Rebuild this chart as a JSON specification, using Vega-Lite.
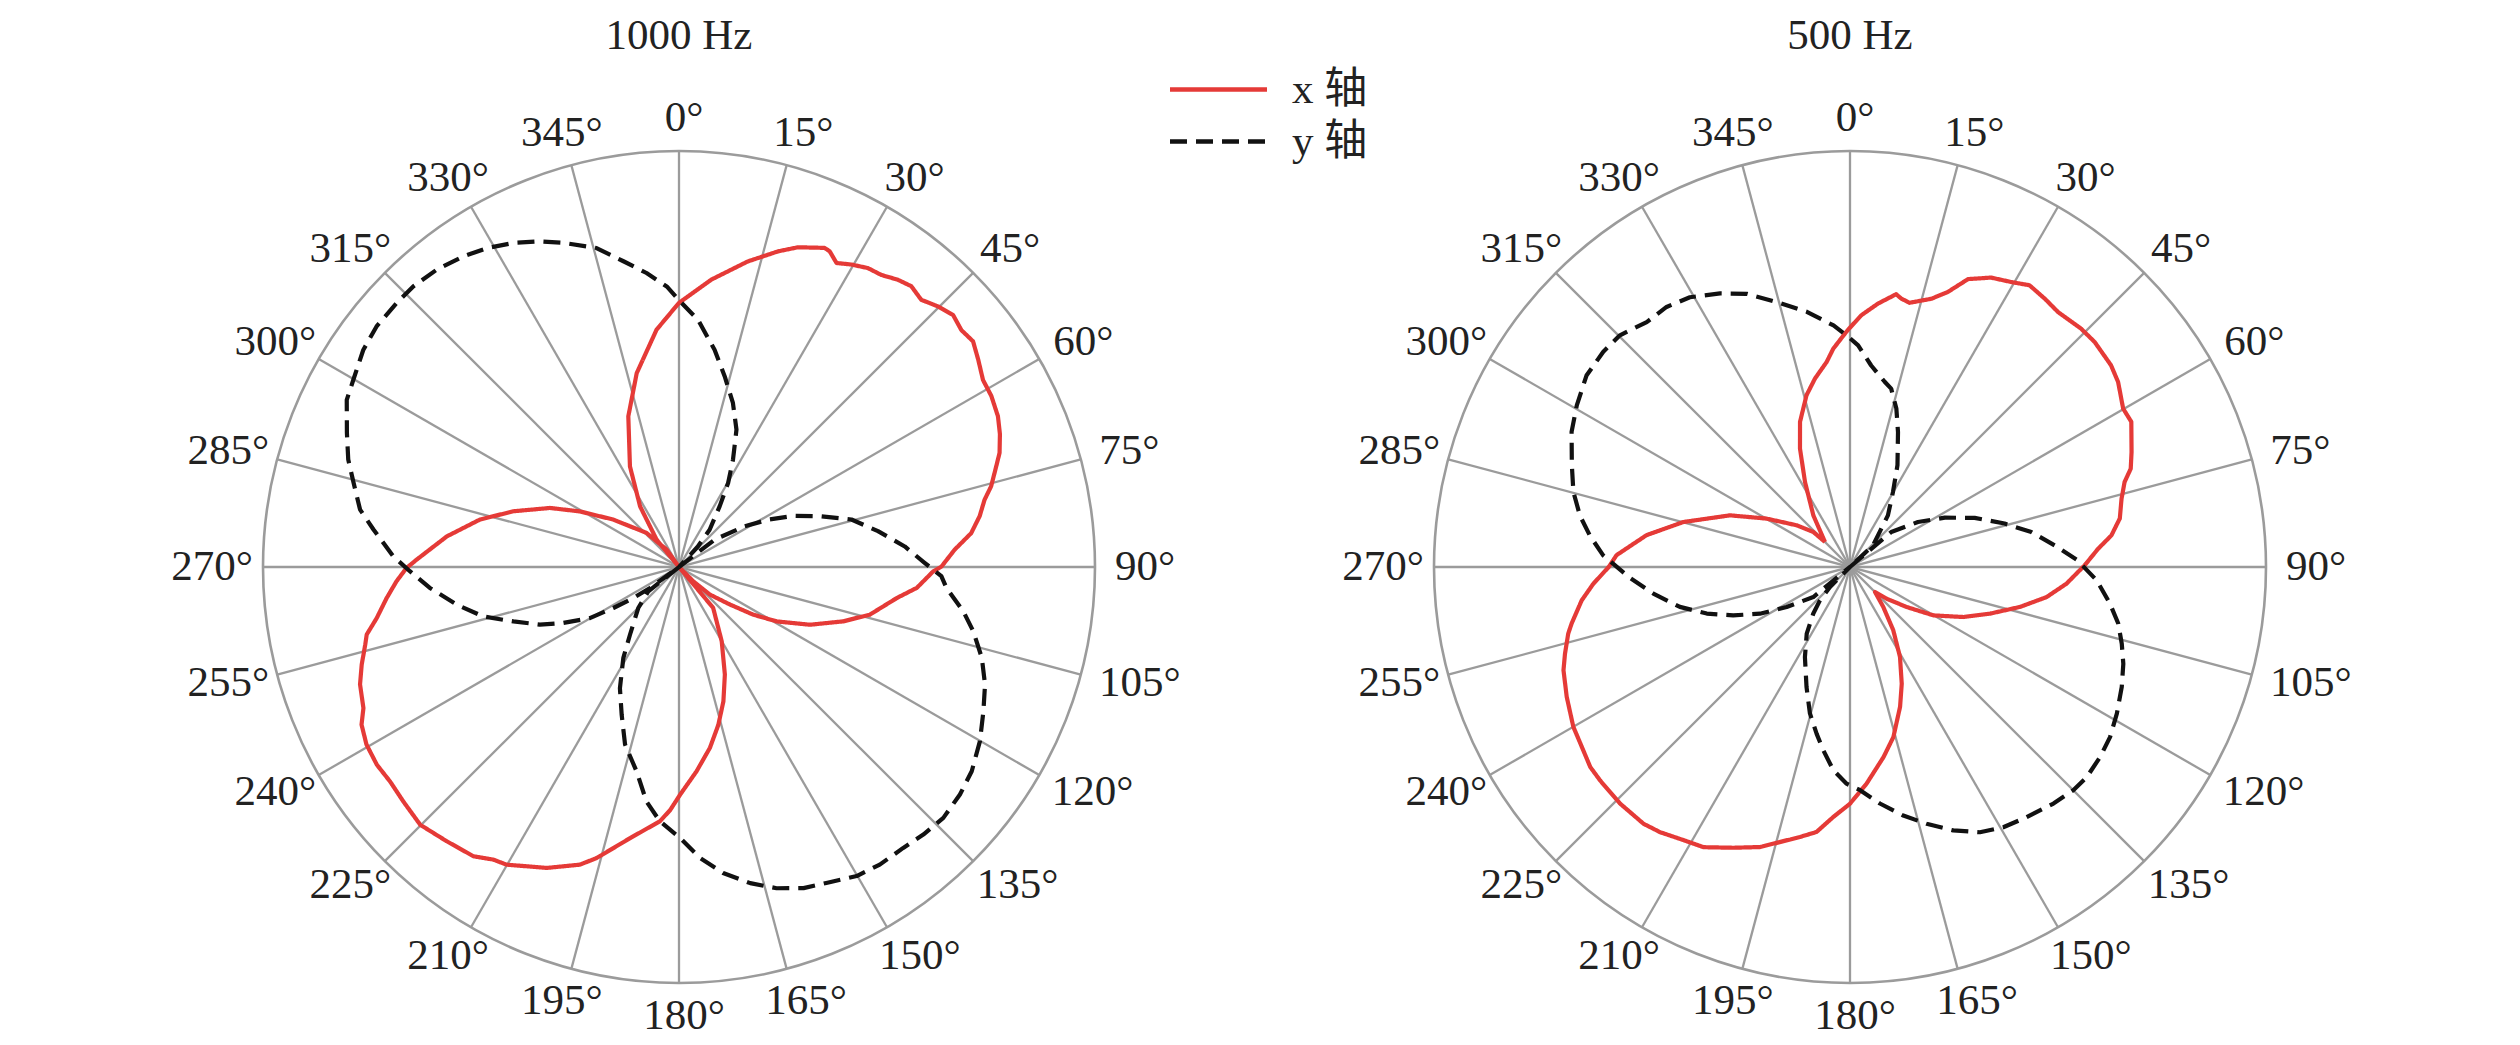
{
  "$schema": "https://vega.github.io/schema/vega-lite/v6.json",
  "background": "white",
  "padding": {"left": 159, "top": 15, "right": 10, "bottom": 0},
  "config": {
    "view": {"stroke": null},
    "title": {"font": "Liberation Serif", "fontSize": 43, "fontWeight": "normal", "color": "#222222", "baseline": "alphabetic", "offset": 31}
  },
  "datasets": {
    "spokes": [
      {"angle": 0, "label": "0°"}, {"angle": 15, "label": "15°"}, {"angle": 30, "label": "30°"}, {"angle": 45, "label": "45°"},
      {"angle": 60, "label": "60°"}, {"angle": 75, "label": "75°"}, {"angle": 90, "label": "90°"}, {"angle": 105, "label": "105°"},
      {"angle": 120, "label": "120°"}, {"angle": 135, "label": "135°"}, {"angle": 150, "label": "150°"}, {"angle": 165, "label": "165°"},
      {"angle": 180, "label": "180°"}, {"angle": 195, "label": "195°"}, {"angle": 210, "label": "210°"}, {"angle": 225, "label": "225°"},
      {"angle": 240, "label": "240°"}, {"angle": 255, "label": "255°"}, {"angle": 270, "label": "270°"}, {"angle": 285, "label": "285°"},
      {"angle": 300, "label": "300°"}, {"angle": 315, "label": "315°"}, {"angle": 330, "label": "330°"}, {"angle": 345, "label": "345°"}
    ],
    "curves": [
      {"panel":"1000 Hz","axis":"x 轴","angle":320,"r":0},
      {"panel":"1000 Hz","axis":"x 轴","angle":320.7,"r":0.085},
      {"panel":"1000 Hz","axis":"x 轴","angle":327.3,"r":0.173},
      {"panel":"1000 Hz","axis":"x 轴","angle":334,"r":0.269},
      {"panel":"1000 Hz","axis":"x 轴","angle":341.4,"r":0.382},
      {"panel":"1000 Hz","axis":"x 轴","angle":347.7,"r":0.477},
      {"panel":"1000 Hz","axis":"x 轴","angle":354.6,"r":0.573},
      {"panel":"1000 Hz","axis":"x 轴","angle":0,"r":0.635},
      {"panel":"1000 Hz","axis":"x 轴","angle":6.4,"r":0.695},
      {"panel":"1000 Hz","axis":"x 轴","angle":12.7,"r":0.753},
      {"panel":"1000 Hz","axis":"x 轴","angle":17.4,"r":0.795},
      {"panel":"1000 Hz","axis":"x 轴","angle":20.4,"r":0.82},
      {"panel":"1000 Hz","axis":"x 轴","angle":24.5,"r":0.843},
      {"panel":"1000 Hz","axis":"x 轴","angle":25.5,"r":0.841},
      {"panel":"1000 Hz","axis":"x 轴","angle":27.4,"r":0.823},
      {"panel":"1000 Hz","axis":"x 轴","angle":29.7,"r":0.837},
      {"panel":"1000 Hz","axis":"x 轴","angle":32.3,"r":0.85},
      {"panel":"1000 Hz","axis":"x 轴","angle":34.7,"r":0.854},
      {"panel":"1000 Hz","axis":"x 轴","angle":37.3,"r":0.868},
      {"panel":"1000 Hz","axis":"x 轴","angle":39.6,"r":0.876},
      {"panel":"1000 Hz","axis":"x 轴","angle":42.2,"r":0.867},
      {"panel":"1000 Hz","axis":"x 轴","angle":44.8,"r":0.883},
      {"panel":"1000 Hz","axis":"x 轴","angle":47.4,"r":0.895},
      {"panel":"1000 Hz","axis":"x 轴","angle":50,"r":0.886},
      {"panel":"1000 Hz","axis":"x 轴","angle":52.5,"r":0.891},
      {"panel":"1000 Hz","axis":"x 轴","angle":55.3,"r":0.875},
      {"panel":"1000 Hz","axis":"x 轴","angle":58.4,"r":0.858},
      {"panel":"1000 Hz","axis":"x 轴","angle":61.3,"r":0.856},
      {"panel":"1000 Hz","axis":"x 轴","angle":64.7,"r":0.848},
      {"panel":"1000 Hz","axis":"x 轴","angle":67.5,"r":0.835},
      {"panel":"1000 Hz","axis":"x 轴","angle":70.4,"r":0.818},
      {"panel":"1000 Hz","axis":"x 轴","angle":72.4,"r":0.8},
      {"panel":"1000 Hz","axis":"x 轴","angle":75.5,"r":0.775},
      {"panel":"1000 Hz","axis":"x 轴","angle":77.6,"r":0.752},
      {"panel":"1000 Hz","axis":"x 轴","angle":80.4,"r":0.733},
      {"panel":"1000 Hz","axis":"x 轴","angle":83.4,"r":0.707},
      {"panel":"1000 Hz","axis":"x 轴","angle":86.4,"r":0.664},
      {"panel":"1000 Hz","axis":"x 轴","angle":89.9,"r":0.631},
      {"panel":"1000 Hz","axis":"x 轴","angle":91,"r":0.611},
      {"panel":"1000 Hz","axis":"x 轴","angle":95,"r":0.574},
      {"panel":"1000 Hz","axis":"x 轴","angle":98.1,"r":0.529},
      {"panel":"1000 Hz","axis":"x 轴","angle":104,"r":0.473},
      {"panel":"1000 Hz","axis":"x 轴","angle":108.3,"r":0.416},
      {"panel":"1000 Hz","axis":"x 轴","angle":113.8,"r":0.344},
      {"panel":"1000 Hz","axis":"x 轴","angle":119.1,"r":0.269},
      {"panel":"1000 Hz","axis":"x 轴","angle":122.7,"r":0.212},
      {"panel":"1000 Hz","axis":"x 轴","angle":126.4,"r":0.152},
      {"panel":"1000 Hz","axis":"x 轴","angle":131.7,"r":0.1},
      {"panel":"1000 Hz","axis":"x 轴","angle":135,"r":0.049},
      {"panel":"1000 Hz","axis":"x 轴","angle":135,"r":0},
      {"panel":"1000 Hz","axis":"x 轴","angle":140.1,"r":0.128},
      {"panel":"1000 Hz","axis":"x 轴","angle":150.1,"r":0.206},
      {"panel":"1000 Hz","axis":"x 轴","angle":156.9,"r":0.281},
      {"panel":"1000 Hz","axis":"x 轴","angle":161.7,"r":0.34},
      {"panel":"1000 Hz","axis":"x 轴","angle":166,"r":0.391},
      {"panel":"1000 Hz","axis":"x 轴","angle":170.3,"r":0.441},
      {"panel":"1000 Hz","axis":"x 轴","angle":175.1,"r":0.493},
      {"panel":"1000 Hz","axis":"x 轴","angle":179.7,"r":0.547},
      {"panel":"1000 Hz","axis":"x 轴","angle":182.1,"r":0.585},
      {"panel":"1000 Hz","axis":"x 轴","angle":184.3,"r":0.613},
      {"panel":"1000 Hz","axis":"x 轴","angle":190.2,"r":0.662},
      {"panel":"1000 Hz","axis":"x 轴","angle":195.8,"r":0.727},
      {"panel":"1000 Hz","axis":"x 轴","angle":198.4,"r":0.754},
      {"panel":"1000 Hz","axis":"x 轴","angle":203.7,"r":0.79},
      {"panel":"1000 Hz","axis":"x 轴","angle":210.1,"r":0.827},
      {"panel":"1000 Hz","axis":"x 轴","angle":212.4,"r":0.833},
      {"panel":"1000 Hz","axis":"x 轴","angle":215.4,"r":0.853},
      {"panel":"1000 Hz","axis":"x 轴","angle":220.3,"r":0.864},
      {"panel":"1000 Hz","axis":"x 轴","angle":225.1,"r":0.878},
      {"panel":"1000 Hz","axis":"x 轴","angle":229.6,"r":0.87},
      {"panel":"1000 Hz","axis":"x 轴","angle":233.4,"r":0.865},
      {"panel":"1000 Hz","axis":"x 轴","angle":236.8,"r":0.868},
      {"panel":"1000 Hz","axis":"x 轴","angle":240.4,"r":0.864},
      {"panel":"1000 Hz","axis":"x 轴","angle":243.6,"r":0.852},
      {"panel":"1000 Hz","axis":"x 轴","angle":245.9,"r":0.831},
      {"panel":"1000 Hz","axis":"x 轴","angle":249.8,"r":0.817},
      {"panel":"1000 Hz","axis":"x 轴","angle":252.9,"r":0.798},
      {"panel":"1000 Hz","axis":"x 轴","angle":256.1,"r":0.777},
      {"panel":"1000 Hz","axis":"x 轴","angle":257.8,"r":0.768},
      {"panel":"1000 Hz","axis":"x 轴","angle":260.4,"r":0.737},
      {"panel":"1000 Hz","axis":"x 轴","angle":263.9,"r":0.707},
      {"panel":"1000 Hz","axis":"x 轴","angle":267.1,"r":0.68},
      {"panel":"1000 Hz","axis":"x 轴","angle":269.8,"r":0.655},
      {"panel":"1000 Hz","axis":"x 轴","angle":271.6,"r":0.631},
      {"panel":"1000 Hz","axis":"x 轴","angle":277.5,"r":0.563},
      {"panel":"1000 Hz","axis":"x 轴","angle":283.4,"r":0.492},
      {"panel":"1000 Hz","axis":"x 轴","angle":288.6,"r":0.42},
      {"panel":"1000 Hz","axis":"x 轴","angle":294.6,"r":0.341},
      {"panel":"1000 Hz","axis":"x 轴","angle":299.3,"r":0.273},
      {"panel":"1000 Hz","axis":"x 轴","angle":305.8,"r":0.195},
      {"panel":"1000 Hz","axis":"x 轴","angle":316.4,"r":0.113},
      {"panel":"1000 Hz","axis":"x 轴","angle":324.6,"r":0.051},
      {"panel":"1000 Hz","axis":"x 轴","angle":320,"r":0},

      {"panel":"1000 Hz","axis":"y 轴","angle":50,"r":0},
      {"panel":"1000 Hz","axis":"y 轴","angle":52.5,"r":0.108},
      {"panel":"1000 Hz","axis":"y 轴","angle":58.2,"r":0.186},
      {"panel":"1000 Hz","axis":"y 轴","angle":62,"r":0.242},
      {"panel":"1000 Hz","axis":"y 轴","angle":66.1,"r":0.304},
      {"panel":"1000 Hz","axis":"y 轴","angle":70.4,"r":0.363},
      {"panel":"1000 Hz","axis":"y 轴","angle":74.6,"r":0.43},
      {"panel":"1000 Hz","axis":"y 轴","angle":79.8,"r":0.486},
      {"panel":"1000 Hz","axis":"y 轴","angle":84.8,"r":0.545},
      {"panel":"1000 Hz","axis":"y 轴","angle":88.9,"r":0.589},
      {"panel":"1000 Hz","axis":"y 轴","angle":92,"r":0.631},
      {"panel":"1000 Hz","axis":"y 轴","angle":94.5,"r":0.645},
      {"panel":"1000 Hz","axis":"y 轴","angle":98.9,"r":0.692},
      {"panel":"1000 Hz","axis":"y 轴","angle":102.3,"r":0.724},
      {"panel":"1000 Hz","axis":"y 轴","angle":106.7,"r":0.76},
      {"panel":"1000 Hz","axis":"y 轴","angle":111,"r":0.788},
      {"panel":"1000 Hz","axis":"y 轴","angle":115.4,"r":0.81},
      {"panel":"1000 Hz","axis":"y 轴","angle":120.1,"r":0.836},
      {"panel":"1000 Hz","axis":"y 轴","angle":124.9,"r":0.858},
      {"panel":"1000 Hz","axis":"y 轴","angle":129,"r":0.869},
      {"panel":"1000 Hz","axis":"y 轴","angle":133.5,"r":0.876},
      {"panel":"1000 Hz","axis":"y 轴","angle":137.6,"r":0.871},
      {"panel":"1000 Hz","axis":"y 轴","angle":141.4,"r":0.864},
      {"panel":"1000 Hz","axis":"y 轴","angle":146,"r":0.863},
      {"panel":"1000 Hz","axis":"y 轴","angle":150.1,"r":0.857},
      {"panel":"1000 Hz","axis":"y 轴","angle":155,"r":0.838},
      {"panel":"1000 Hz","axis":"y 轴","angle":158.8,"r":0.828},
      {"panel":"1000 Hz","axis":"y 轴","angle":163.1,"r":0.807},
      {"panel":"1000 Hz","axis":"y 轴","angle":167.3,"r":0.779},
      {"panel":"1000 Hz","axis":"y 轴","angle":171.8,"r":0.743},
      {"panel":"1000 Hz","axis":"y 轴","angle":175.9,"r":0.701},
      {"panel":"1000 Hz","axis":"y 轴","angle":179.8,"r":0.651},
      {"panel":"1000 Hz","axis":"y 轴","angle":184.3,"r":0.613},
      {"panel":"1000 Hz","axis":"y 轴","angle":187.9,"r":0.569},
      {"panel":"1000 Hz","axis":"y 轴","angle":191.7,"r":0.502},
      {"panel":"1000 Hz","axis":"y 轴","angle":196.9,"r":0.446},
      {"panel":"1000 Hz","axis":"y 轴","angle":201.2,"r":0.381},
      {"panel":"1000 Hz","axis":"y 轴","angle":206,"r":0.324},
      {"panel":"1000 Hz","axis":"y 轴","angle":211.5,"r":0.256},
      {"panel":"1000 Hz","axis":"y 轴","angle":215.9,"r":0.201},
      {"panel":"1000 Hz","axis":"y 轴","angle":224.8,"r":0.139},
      {"panel":"1000 Hz","axis":"y 轴","angle":231.6,"r":0.094},
      {"panel":"1000 Hz","axis":"y 轴","angle":233,"r":0},
      {"panel":"1000 Hz","axis":"y 轴","angle":234.1,"r":0.086},
      {"panel":"1000 Hz","axis":"y 轴","angle":235.8,"r":0.133},
      {"panel":"1000 Hz","axis":"y 轴","angle":238,"r":0.186},
      {"panel":"1000 Hz","axis":"y 轴","angle":240.2,"r":0.247},
      {"panel":"1000 Hz","axis":"y 轴","angle":244.2,"r":0.309},
      {"panel":"1000 Hz","axis":"y 轴","angle":247.5,"r":0.362},
      {"panel":"1000 Hz","axis":"y 轴","angle":251.8,"r":0.419},
      {"panel":"1000 Hz","axis":"y 轴","angle":255.8,"r":0.485},
      {"panel":"1000 Hz","axis":"y 轴","angle":260.4,"r":0.542},
      {"panel":"1000 Hz","axis":"y 轴","angle":265.2,"r":0.601},
      {"panel":"1000 Hz","axis":"y 轴","angle":269.1,"r":0.647},
      {"panel":"1000 Hz","axis":"y 轴","angle":272.1,"r":0.687},
      {"panel":"1000 Hz","axis":"y 轴","angle":277,"r":0.74},
      {"panel":"1000 Hz","axis":"y 轴","angle":280.2,"r":0.779},
      {"panel":"1000 Hz","axis":"y 轴","angle":284.5,"r":0.808},
      {"panel":"1000 Hz","axis":"y 轴","angle":288,"r":0.836},
      {"panel":"1000 Hz","axis":"y 轴","angle":292,"r":0.861},
      {"panel":"1000 Hz","axis":"y 轴","angle":296.7,"r":0.894},
      {"panel":"1000 Hz","axis":"y 轴","angle":299.9,"r":0.903},
      {"panel":"1000 Hz","axis":"y 轴","angle":304.5,"r":0.921},
      {"panel":"1000 Hz","axis":"y 轴","angle":308.5,"r":0.929},
      {"panel":"1000 Hz","axis":"y 轴","angle":313.1,"r":0.929},
      {"panel":"1000 Hz","axis":"y 轴","angle":316.6,"r":0.929},
      {"panel":"1000 Hz","axis":"y 轴","angle":320.8,"r":0.922},
      {"panel":"1000 Hz","axis":"y 轴","angle":325.2,"r":0.909},
      {"panel":"1000 Hz","axis":"y 轴","angle":328.9,"r":0.895},
      {"panel":"1000 Hz","axis":"y 轴","angle":332.9,"r":0.875},
      {"panel":"1000 Hz","axis":"y 轴","angle":336.9,"r":0.851},
      {"panel":"1000 Hz","axis":"y 轴","angle":340.4,"r":0.827},
      {"panel":"1000 Hz","axis":"y 轴","angle":345.5,"r":0.792},
      {"panel":"1000 Hz","axis":"y 轴","angle":349.7,"r":0.747},
      {"panel":"1000 Hz","axis":"y 轴","angle":353.7,"r":0.711},
      {"panel":"1000 Hz","axis":"y 轴","angle":357.5,"r":0.675},
      {"panel":"1000 Hz","axis":"y 轴","angle":0.2,"r":0.639},
      {"panel":"1000 Hz","axis":"y 轴","angle":4.4,"r":0.596},
      {"panel":"1000 Hz","axis":"y 轴","angle":9.3,"r":0.529},
      {"panel":"1000 Hz","axis":"y 轴","angle":13.5,"r":0.471},
      {"panel":"1000 Hz","axis":"y 轴","angle":18.2,"r":0.415},
      {"panel":"1000 Hz","axis":"y 轴","angle":22.7,"r":0.358},
      {"panel":"1000 Hz","axis":"y 轴","angle":26.7,"r":0.289},
      {"panel":"1000 Hz","axis":"y 轴","angle":30.3,"r":0.234},
      {"panel":"1000 Hz","axis":"y 轴","angle":33.8,"r":0.176},
      {"panel":"1000 Hz","axis":"y 轴","angle":39.4,"r":0.116},
      {"panel":"1000 Hz","axis":"y 轴","angle":42.6,"r":0.067},
      {"panel":"1000 Hz","axis":"y 轴","angle":50,"r":0},

      {"panel":"500 Hz","axis":"x 轴","angle":315,"r":0.085},
      {"panel":"500 Hz","axis":"x 轴","angle":324.6,"r":0.152},
      {"panel":"500 Hz","axis":"x 轴","angle":332.1,"r":0.231},
      {"panel":"500 Hz","axis":"x 轴","angle":337.1,"r":0.309},
      {"panel":"500 Hz","axis":"x 轴","angle":341,"r":0.369},
      {"panel":"500 Hz","axis":"x 轴","angle":345.8,"r":0.426},
      {"panel":"500 Hz","axis":"x 轴","angle":349.5,"r":0.461},
      {"panel":"500 Hz","axis":"x 轴","angle":353.5,"r":0.496},
      {"panel":"500 Hz","axis":"x 轴","angle":355.6,"r":0.526},
      {"panel":"500 Hz","axis":"x 轴","angle":358.4,"r":0.557},
      {"panel":"500 Hz","axis":"x 轴","angle":359.5,"r":0.57},
      {"panel":"500 Hz","axis":"x 轴","angle":2.6,"r":0.606},
      {"panel":"500 Hz","axis":"x 轴","angle":6.1,"r":0.637},
      {"panel":"500 Hz","axis":"x 轴","angle":9.6,"r":0.665},
      {"panel":"500 Hz","axis":"x 轴","angle":10.8,"r":0.657},
      {"panel":"500 Hz","axis":"x 轴","angle":12.7,"r":0.651},
      {"panel":"500 Hz","axis":"x 轴","angle":16.9,"r":0.674},
      {"panel":"500 Hz","axis":"x 轴","angle":19.6,"r":0.702},
      {"panel":"500 Hz","axis":"x 轴","angle":22.3,"r":0.748},
      {"panel":"500 Hz","axis":"x 轴","angle":26,"r":0.774},
      {"panel":"500 Hz","axis":"x 轴","angle":29.5,"r":0.787},
      {"panel":"500 Hz","axis":"x 轴","angle":32.5,"r":0.803},
      {"panel":"500 Hz","axis":"x 轴","angle":36,"r":0.797},
      {"panel":"500 Hz","axis":"x 轴","angle":39.2,"r":0.791},
      {"panel":"500 Hz","axis":"x 轴","angle":44.1,"r":0.798},
      {"panel":"500 Hz","axis":"x 轴","angle":47.4,"r":0.799},
      {"panel":"500 Hz","axis":"x 轴","angle":52.3,"r":0.793},
      {"panel":"500 Hz","axis":"x 轴","angle":55.4,"r":0.783},
      {"panel":"500 Hz","axis":"x 轴","angle":59.9,"r":0.759},
      {"panel":"500 Hz","axis":"x 轴","angle":62.7,"r":0.761},
      {"panel":"500 Hz","axis":"x 轴","angle":67.8,"r":0.731},
      {"panel":"500 Hz","axis":"x 轴","angle":70.7,"r":0.715},
      {"panel":"500 Hz","axis":"x 轴","angle":72.8,"r":0.691},
      {"panel":"500 Hz","axis":"x 轴","angle":75.9,"r":0.673},
      {"panel":"500 Hz","axis":"x 轴","angle":79.8,"r":0.659},
      {"panel":"500 Hz","axis":"x 轴","angle":83.1,"r":0.633},
      {"panel":"500 Hz","axis":"x 轴","angle":85.8,"r":0.598},
      {"panel":"500 Hz","axis":"x 轴","angle":89.6,"r":0.564},
      {"panel":"500 Hz","axis":"x 轴","angle":94.4,"r":0.522},
      {"panel":"500 Hz","axis":"x 轴","angle":98.7,"r":0.478},
      {"panel":"500 Hz","axis":"x 轴","angle":103.2,"r":0.42},
      {"panel":"500 Hz","axis":"x 轴","angle":108.4,"r":0.355},
      {"panel":"500 Hz","axis":"x 轴","angle":113.8,"r":0.298},
      {"panel":"500 Hz","axis":"x 轴","angle":120.1,"r":0.232},
      {"panel":"500 Hz","axis":"x 轴","angle":125.2,"r":0.167},
      {"panel":"500 Hz","axis":"x 轴","angle":130.8,"r":0.117},
      {"panel":"500 Hz","axis":"x 轴","angle":135,"r":0.085},
      {"panel":"500 Hz","axis":"x 轴","angle":140.2,"r":0.125},
      {"panel":"500 Hz","axis":"x 轴","angle":145.6,"r":0.184},
      {"panel":"500 Hz","axis":"x 轴","angle":150.9,"r":0.247},
      {"panel":"500 Hz","axis":"x 轴","angle":156.1,"r":0.307},
      {"panel":"500 Hz","axis":"x 轴","angle":160.3,"r":0.357},
      {"panel":"500 Hz","axis":"x 轴","angle":165.7,"r":0.422},
      {"panel":"500 Hz","axis":"x 轴","angle":170,"r":0.464},
      {"panel":"500 Hz","axis":"x 轴","angle":175.6,"r":0.522},
      {"panel":"500 Hz","axis":"x 轴","angle":180,"r":0.569},
      {"panel":"500 Hz","axis":"x 轴","angle":183.8,"r":0.602},
      {"panel":"500 Hz","axis":"x 轴","angle":187.2,"r":0.642},
      {"panel":"500 Hz","axis":"x 轴","angle":190.5,"r":0.66},
      {"panel":"500 Hz","axis":"x 轴","angle":197.8,"r":0.707},
      {"panel":"500 Hz","axis":"x 轴","angle":202.6,"r":0.731},
      {"panel":"500 Hz","axis":"x 轴","angle":207.6,"r":0.76},
      {"panel":"500 Hz","axis":"x 轴","angle":211.4,"r":0.769},
      {"panel":"500 Hz","axis":"x 轴","angle":215.6,"r":0.784},
      {"panel":"500 Hz","axis":"x 轴","angle":218.8,"r":0.792},
      {"panel":"500 Hz","axis":"x 轴","angle":224.2,"r":0.793},
      {"panel":"500 Hz","axis":"x 轴","angle":229.5,"r":0.79},
      {"panel":"500 Hz","axis":"x 轴","angle":232.4,"r":0.788},
      {"panel":"500 Hz","axis":"x 轴","angle":235.5,"r":0.778},
      {"panel":"500 Hz","axis":"x 轴","angle":240,"r":0.768},
      {"panel":"500 Hz","axis":"x 轴","angle":245.4,"r":0.749},
      {"panel":"500 Hz","axis":"x 轴","angle":250.2,"r":0.732},
      {"panel":"500 Hz","axis":"x 轴","angle":253.1,"r":0.716},
      {"panel":"500 Hz","axis":"x 轴","angle":256.7,"r":0.696},
      {"panel":"500 Hz","axis":"x 轴","angle":258.5,"r":0.683},
      {"panel":"500 Hz","axis":"x 轴","angle":262.9,"r":0.65},
      {"panel":"500 Hz","axis":"x 轴","angle":266.3,"r":0.618},
      {"panel":"500 Hz","axis":"x 轴","angle":270,"r":0.58},
      {"panel":"500 Hz","axis":"x 轴","angle":272.9,"r":0.562},
      {"panel":"500 Hz","axis":"x 轴","angle":278.9,"r":0.495},
      {"panel":"500 Hz","axis":"x 轴","angle":285.1,"r":0.415},
      {"panel":"500 Hz","axis":"x 轴","angle":293.3,"r":0.314},
      {"panel":"500 Hz","axis":"x 轴","angle":300.1,"r":0.232},
      {"panel":"500 Hz","axis":"x 轴","angle":308,"r":0.163},
      {"panel":"500 Hz","axis":"x 轴","angle":313.7,"r":0.122},
      {"panel":"500 Hz","axis":"x 轴","angle":315,"r":0.085},

      {"panel":"500 Hz","axis":"y 轴","angle":47,"r":0},
      {"panel":"500 Hz","axis":"y 轴","angle":49.7,"r":0.13},
      {"panel":"500 Hz","axis":"y 轴","angle":56.5,"r":0.196},
      {"panel":"500 Hz","axis":"y 轴","angle":62.5,"r":0.257},
      {"panel":"500 Hz","axis":"y 轴","angle":68.5,"r":0.322},
      {"panel":"500 Hz","axis":"y 轴","angle":74.3,"r":0.386},
      {"panel":"500 Hz","axis":"y 轴","angle":79.1,"r":0.444},
      {"panel":"500 Hz","axis":"y 轴","angle":84,"r":0.495},
      {"panel":"500 Hz","axis":"y 轴","angle":88.3,"r":0.547},
      {"panel":"500 Hz","axis":"y 轴","angle":93.1,"r":0.594},
      {"panel":"500 Hz","axis":"y 轴","angle":98,"r":0.631},
      {"panel":"500 Hz","axis":"y 轴","angle":101.9,"r":0.659},
      {"panel":"500 Hz","axis":"y 轴","angle":105.8,"r":0.679},
      {"panel":"500 Hz","axis":"y 轴","angle":109.5,"r":0.697},
      {"panel":"500 Hz","axis":"y 轴","angle":113.8,"r":0.714},
      {"panel":"500 Hz","axis":"y 轴","angle":118.8,"r":0.732},
      {"panel":"500 Hz","axis":"y 轴","angle":123.2,"r":0.747},
      {"panel":"500 Hz","axis":"y 轴","angle":127.2,"r":0.755},
      {"panel":"500 Hz","axis":"y 轴","angle":131.6,"r":0.761},
      {"panel":"500 Hz","axis":"y 轴","angle":135,"r":0.759},
      {"panel":"500 Hz","axis":"y 轴","angle":139.3,"r":0.75},
      {"panel":"500 Hz","axis":"y 轴","angle":144.8,"r":0.736},
      {"panel":"500 Hz","axis":"y 轴","angle":149.5,"r":0.726},
      {"panel":"500 Hz","axis":"y 轴","angle":153.9,"r":0.71},
      {"panel":"500 Hz","axis":"y 轴","angle":158.6,"r":0.68},
      {"panel":"500 Hz","axis":"y 轴","angle":163.4,"r":0.644},
      {"panel":"500 Hz","axis":"y 轴","angle":167.9,"r":0.611},
      {"panel":"500 Hz","axis":"y 轴","angle":172.8,"r":0.573},
      {"panel":"500 Hz","axis":"y 轴","angle":177.4,"r":0.537},
      {"panel":"500 Hz","axis":"y 轴","angle":180.9,"r":0.521},
      {"panel":"500 Hz","axis":"y 轴","angle":184.7,"r":0.49},
      {"panel":"500 Hz","axis":"y 轴","angle":188.3,"r":0.445},
      {"panel":"500 Hz","axis":"y 轴","angle":191.3,"r":0.409},
      {"panel":"500 Hz","axis":"y 轴","angle":195.3,"r":0.365},
      {"panel":"500 Hz","axis":"y 轴","angle":199.9,"r":0.307},
      {"panel":"500 Hz","axis":"y 轴","angle":206.6,"r":0.242},
      {"panel":"500 Hz","axis":"y 轴","angle":213,"r":0.191},
      {"panel":"500 Hz","axis":"y 轴","angle":218.2,"r":0.143},
      {"panel":"500 Hz","axis":"y 轴","angle":222,"r":0.108},
      {"panel":"500 Hz","axis":"y 轴","angle":225,"r":0.068},
      {"panel":"500 Hz","axis":"y 轴","angle":225,"r":0},
      {"panel":"500 Hz","axis":"y 轴","angle":230.7,"r":0.114},
      {"panel":"500 Hz","axis":"y 轴","angle":237.7,"r":0.18},
      {"panel":"500 Hz","axis":"y 轴","angle":242.6,"r":0.244},
      {"panel":"500 Hz","axis":"y 轴","angle":247.5,"r":0.304},
      {"panel":"500 Hz","axis":"y 轴","angle":252,"r":0.362},
      {"panel":"500 Hz","axis":"y 轴","angle":256.8,"r":0.42},
      {"panel":"500 Hz","axis":"y 轴","angle":262.3,"r":0.477},
      {"panel":"500 Hz","axis":"y 轴","angle":267.2,"r":0.53},
      {"panel":"500 Hz","axis":"y 轴","angle":272.7,"r":0.594},
      {"panel":"500 Hz","axis":"y 轴","angle":276.9,"r":0.63},
      {"panel":"500 Hz","axis":"y 轴","angle":280.8,"r":0.661},
      {"panel":"500 Hz","axis":"y 轴","angle":285.2,"r":0.689},
      {"panel":"500 Hz","axis":"y 轴","angle":290.1,"r":0.712},
      {"panel":"500 Hz","axis":"y 轴","angle":295.9,"r":0.744},
      {"panel":"500 Hz","axis":"y 轴","angle":300.6,"r":0.763},
      {"panel":"500 Hz","axis":"y 轴","angle":306,"r":0.783},
      {"panel":"500 Hz","axis":"y 轴","angle":311.1,"r":0.787},
      {"panel":"500 Hz","axis":"y 轴","angle":315.2,"r":0.785},
      {"panel":"500 Hz","axis":"y 轴","angle":320.3,"r":0.765},
      {"panel":"500 Hz","axis":"y 轴","angle":324.8,"r":0.765},
      {"panel":"500 Hz","axis":"y 轴","angle":329.3,"r":0.754},
      {"panel":"500 Hz","axis":"y 轴","angle":334.6,"r":0.728},
      {"panel":"500 Hz","axis":"y 轴","angle":339.3,"r":0.702},
      {"panel":"500 Hz","axis":"y 轴","angle":344.5,"r":0.661},
      {"panel":"500 Hz","axis":"y 轴","angle":350.4,"r":0.622},
      {"panel":"500 Hz","axis":"y 轴","angle":356.1,"r":0.582},
      {"panel":"500 Hz","axis":"y 轴","angle":0,"r":0.55},
      {"panel":"500 Hz","axis":"y 轴","angle":2.1,"r":0.533},
      {"panel":"500 Hz","axis":"y 轴","angle":6,"r":0.487},
      {"panel":"500 Hz","axis":"y 轴","angle":10.6,"r":0.453},
      {"panel":"500 Hz","axis":"y 轴","angle":13,"r":0.44},
      {"panel":"500 Hz","axis":"y 轴","angle":16.3,"r":0.397},
      {"panel":"500 Hz","axis":"y 轴","angle":19.6,"r":0.344},
      {"panel":"500 Hz","axis":"y 轴","angle":25,"r":0.27},
      {"panel":"500 Hz","axis":"y 轴","angle":29.8,"r":0.208},
      {"panel":"500 Hz","axis":"y 轴","angle":36.3,"r":0.154},
      {"panel":"500 Hz","axis":"y 轴","angle":40.3,"r":0.11},
      {"panel":"500 Hz","axis":"y 轴","angle":46.7,"r":0.076},
      {"panel":"500 Hz","axis":"y 轴","angle":47,"r":0}
    ]
  },
  "spacing": 131,
  "hconcat": [
    {
      "width": 1040,
      "height": 956,
      "title": {"text": "1000 Hz"},
      "layer": [
        {
          "data": {"values": [{"c": 0}]},
          "mark": {"type": "point", "shape": "circle", "filled": false, "size": 692224, "color": "#9b9b9b", "strokeWidth": 2.6, "opacity": 1},
          "encoding": {
            "x": {"field": "c", "type": "quantitative", "scale": {"domain": [-1.25, 1.25], "nice": false, "zero": false}, "axis": null},
            "y": {"field": "c", "type": "quantitative", "scale": {"domain": [-1.149, 1.149], "nice": false, "zero": false}, "axis": null}
          }
        },
        {
          "data": {"name": "spokes"},
          "transform": [
            {"filter": "datum.angle < 180"},
            {"calculate": "sin(datum.angle*PI/180)", "as": "sx"},
            {"calculate": "cos(datum.angle*PI/180)", "as": "sy"},
            {"calculate": "-datum.sx", "as": "nx"},
            {"calculate": "-datum.sy", "as": "ny"}
          ],
          "mark": {"type": "rule", "color": "#9b9b9b", "strokeWidth": 2.3},
          "encoding": {
            "x": {"field": "sx", "type": "quantitative", "scale": {"domain": [-1.25, 1.25], "nice": false, "zero": false}, "axis": null},
            "y": {"field": "sy", "type": "quantitative", "scale": {"domain": [-1.149, 1.149], "nice": false, "zero": false}, "axis": null},
            "x2": {"field": "nx"},
            "y2": {"field": "ny"}
          }
        },
        {
          "data": {"name": "spokes"},
          "transform": [
            {"calculate": "datum.angle*PI/180", "as": "rad"},
            {"calculate": "43*(0.5*(length(datum.label)-1)+0.4)", "as": "w"},
            {"calculate": "(431+0.5*datum.w)/416*sin(datum.rad)", "as": "lx"},
            {"calculate": "449/416*cos(datum.rad)", "as": "ly"}
          ],
          "mark": {"type": "text", "font": "Liberation Serif", "fontSize": 43, "align": "center", "baseline": "middle", "color": "#222222", "dx": 5},
          "encoding": {
            "x": {"field": "lx", "type": "quantitative", "scale": {"domain": [-1.25, 1.25], "nice": false, "zero": false}, "axis": null},
            "y": {"field": "ly", "type": "quantitative", "scale": {"domain": [-1.149, 1.149], "nice": false, "zero": false}, "axis": null},
            "text": {"field": "label", "type": "nominal"}
          }
        },
        {
          "data": {"name": "curves"},
          "transform": [
            {"filter": "datum.panel == '1000 Hz'"},
            {"window": [{"op": "row_number", "as": "seq"}]},
            {"calculate": "datum.r*sin(datum.angle*PI/180)", "as": "cx"},
            {"calculate": "datum.r*cos(datum.angle*PI/180)", "as": "cy"}
          ],
          "mark": {"type": "line", "strokeWidth": 4.2, "strokeJoin": "round"},
          "encoding": {
            "x": {"field": "cx", "type": "quantitative", "scale": {"domain": [-1.25, 1.25], "nice": false, "zero": false}, "axis": null},
            "y": {"field": "cy", "type": "quantitative", "scale": {"domain": [-1.149, 1.149], "nice": false, "zero": false}, "axis": null},
            "order": {"field": "seq", "type": "quantitative"},
            "color": {
              "field": "axis", "type": "nominal",
              "scale": {"domain": ["x 轴", "y 轴"], "range": ["#e53a37", "#111111"]},
              "legend": {"orient": "none", "legendX": 1033, "legendY": -26, "title": null, "padding": 0, "symbolType": "M-2,0H2", "symbolSize": 2352, "symbolStrokeWidth": 4.5, "labelFont": "Liberation Serif, Noto Sans CJK SC", "labelFontSize": 43, "labelColor": "#222222", "labelOffset": 47, "rowPadding": 3, "labelLimit": 400}
            },
            "strokeDash": {
              "field": "axis", "type": "nominal",
              "scale": {"domain": ["x 轴", "y 轴"], "range": [[1, 0], [17, 9]]},
              "legend": {"orient": "none", "legendX": 1033, "legendY": -26, "title": null, "padding": 0, "symbolType": "M-2,0H2", "symbolSize": 2352, "symbolStrokeWidth": 4.5, "labelFont": "Liberation Serif, Noto Sans CJK SC", "labelFontSize": 43, "labelColor": "#222222", "labelOffset": 47, "rowPadding": 3, "labelLimit": 400}
            }
          }
        }
      ]
    },
    {
      "width": 1040,
      "height": 956,
      "title": {"text": "500 Hz"},
      "layer": [
        {
          "data": {"values": [{"c": 0}]},
          "mark": {"type": "point", "shape": "circle", "filled": false, "size": 692224, "color": "#9b9b9b", "strokeWidth": 2.6, "opacity": 1},
          "encoding": {
            "x": {"field": "c", "type": "quantitative", "scale": {"domain": [-1.25, 1.25], "nice": false, "zero": false}, "axis": null},
            "y": {"field": "c", "type": "quantitative", "scale": {"domain": [-1.149, 1.149], "nice": false, "zero": false}, "axis": null}
          }
        },
        {
          "data": {"name": "spokes"},
          "transform": [
            {"filter": "datum.angle < 180"},
            {"calculate": "sin(datum.angle*PI/180)", "as": "sx"},
            {"calculate": "cos(datum.angle*PI/180)", "as": "sy"},
            {"calculate": "-datum.sx", "as": "nx"},
            {"calculate": "-datum.sy", "as": "ny"}
          ],
          "mark": {"type": "rule", "color": "#9b9b9b", "strokeWidth": 2.3},
          "encoding": {
            "x": {"field": "sx", "type": "quantitative", "scale": {"domain": [-1.25, 1.25], "nice": false, "zero": false}, "axis": null},
            "y": {"field": "sy", "type": "quantitative", "scale": {"domain": [-1.149, 1.149], "nice": false, "zero": false}, "axis": null},
            "x2": {"field": "nx"},
            "y2": {"field": "ny"}
          }
        },
        {
          "data": {"name": "spokes"},
          "transform": [
            {"calculate": "datum.angle*PI/180", "as": "rad"},
            {"calculate": "43*(0.5*(length(datum.label)-1)+0.4)", "as": "w"},
            {"calculate": "(431+0.5*datum.w)/416*sin(datum.rad)", "as": "lx"},
            {"calculate": "449/416*cos(datum.rad)", "as": "ly"}
          ],
          "mark": {"type": "text", "font": "Liberation Serif", "fontSize": 43, "align": "center", "baseline": "middle", "color": "#222222", "dx": 5},
          "encoding": {
            "x": {"field": "lx", "type": "quantitative", "scale": {"domain": [-1.25, 1.25], "nice": false, "zero": false}, "axis": null},
            "y": {"field": "ly", "type": "quantitative", "scale": {"domain": [-1.149, 1.149], "nice": false, "zero": false}, "axis": null},
            "text": {"field": "label", "type": "nominal"}
          }
        },
        {
          "data": {"name": "curves"},
          "transform": [
            {"filter": "datum.panel == '500 Hz'"},
            {"window": [{"op": "row_number", "as": "seq"}]},
            {"calculate": "datum.r*sin(datum.angle*PI/180)", "as": "cx"},
            {"calculate": "datum.r*cos(datum.angle*PI/180)", "as": "cy"}
          ],
          "mark": {"type": "line", "strokeWidth": 4.2, "strokeJoin": "round"},
          "encoding": {
            "x": {"field": "cx", "type": "quantitative", "scale": {"domain": [-1.25, 1.25], "nice": false, "zero": false}, "axis": null},
            "y": {"field": "cy", "type": "quantitative", "scale": {"domain": [-1.149, 1.149], "nice": false, "zero": false}, "axis": null},
            "order": {"field": "seq", "type": "quantitative"},
            "color": {
              "field": "axis", "type": "nominal",
              "scale": {"domain": ["x 轴", "y 轴"], "range": ["#e53a37", "#111111"]},
              "legend": {"orient": "none", "legendX": 1033, "legendY": -26, "title": null, "padding": 0, "symbolType": "M-2,0H2", "symbolSize": 2352, "symbolStrokeWidth": 4.5, "labelFont": "Liberation Serif, Noto Sans CJK SC", "labelFontSize": 43, "labelColor": "#222222", "labelOffset": 47, "rowPadding": 3, "labelLimit": 400}
            },
            "strokeDash": {
              "field": "axis", "type": "nominal",
              "scale": {"domain": ["x 轴", "y 轴"], "range": [[1, 0], [17, 9]]},
              "legend": {"orient": "none", "legendX": 1033, "legendY": -26, "title": null, "padding": 0, "symbolType": "M-2,0H2", "symbolSize": 2352, "symbolStrokeWidth": 4.5, "labelFont": "Liberation Serif, Noto Sans CJK SC", "labelFontSize": 43, "labelColor": "#222222", "labelOffset": 47, "rowPadding": 3, "labelLimit": 400}
            }
          }
        }
      ]
    }
  ]
}
